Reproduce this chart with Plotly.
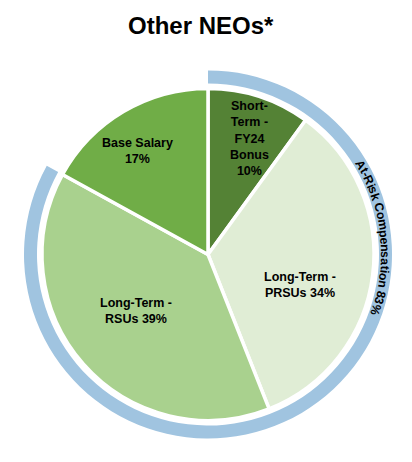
import math
import plotly.graph_objects as go

# ---- data ----
labels = ["Short-Term - FY24 Bonus", "Long-Term - PRSUs", "Long-Term - RSUs", "Base Salary"]
values = [10, 34, 39, 17]
label_text = ["Short-<br>Term -<br>FY24<br>Bonus<br>10%", "Long-Term -<br>PRSUs 34%",
              "Long-Term -<br>RSUs 39%", "Base Salary<br>17%"]
ring_labels = ["At-Risk Compensation", "Other"]
ring_values = [83, 17]
ring_text = "At-Risk Compensation 83%"
title_text = "Other NEOs*"

# ---- styling / layout ----
colors = ["#548235", "#E0EDD5", "#A9D18E", "#70AD47"]
ring_color = "#A0C4E0"
W, H = 412, 462
OFF = 8                          # page body margin
cx, cy = 208 - OFF, 254.5 - OFF  # pie centre (px in figure)
R_pie = 166
R_ring_out, R_ring_in = 184, 171
label_r = [123, 97, 91, 125]
label_dang = [1.9, 10.9, 3.3, -3.5]   # degrees, label placement tweak
FONT = "Liberation Sans, Arial, sans-serif"


def px(x, y):
    return x / W, 1 - y / H


def dom(r):
    return dict(x=[(cx - r) / W, (cx + r) / W], y=[1 - (cy + r) / H, 1 - (cy - r) / H])


fig = go.Figure()
fig.add_trace(go.Pie(
    labels=ring_labels, values=ring_values, sort=False, direction="clockwise", rotation=0,
    hole=R_ring_in / R_ring_out, domain=dom(R_ring_out),
    marker=dict(colors=[ring_color, "rgba(0,0,0,0)"], line=dict(width=0)),
    textinfo="none", hoverinfo="skip", showlegend=False,
))
fig.add_trace(go.Pie(
    labels=labels, values=values, sort=False, direction="clockwise", rotation=0,
    domain=dom(R_pie),
    marker=dict(colors=colors, line=dict(color="white", width=3.5)),
    textinfo="none", hoverinfo="label+percent", showlegend=False,
))

annotations = []
# slice labels at data-derived mid angles
total = sum(values)
cum = 0
for v, t, r, da in zip(values, label_text, label_r, label_dang):
    mid = (cum + v / 2) / total * 2 * math.pi + math.radians(da)
    cum += v
    x, y = px(cx + r * math.sin(mid), cy - r * math.cos(mid))
    annotations.append(dict(
        x=x, y=y, xref="paper", yref="paper", text=t, showarrow=False,
        xanchor="center", yanchor="middle",
        font=dict(family=FONT, size=12.5, color="black", weight=700), align="center"))

# curved ring text
widths = {"A": 722, "t": 333, "-": 333, "R": 722, "i": 278, "s": 556, "k": 556, " ": 278,
          "C": 722, "o": 611, "m": 889, "p": 611, "e": 556, "n": 611, "a": 556,
          "8": 556, "3": 556, "%": 889}
fs = 12.3
r_text = 177
theta_c = math.radians(84)
w = [widths.get(c, 556) * fs / 1000 for c in ring_text]
L = sum(w)
s = 0
for c, wc in zip(ring_text, w):
    sc = s + wc / 2
    s += wc
    if c == " ":
        continue
    th = theta_c + (sc - L / 2) / r_text
    x, y = px(cx + r_text * math.sin(th), cy - r_text * math.cos(th))
    annotations.append(dict(
        x=x, y=y, xref="paper", yref="paper", text=c, showarrow=False,
        xanchor="center", yanchor="middle", textangle=math.degrees(th),
        font=dict(family=FONT, size=fs, color="black", weight=700)))

tx, ty = px(201 - OFF, 25 - OFF)
annotations.append(dict(
    x=tx, y=ty, xref="paper", yref="paper", text=title_text, showarrow=False,
    xanchor="center", yanchor="middle",
    font=dict(family=FONT, size=24, color="black", weight=700)))

fig.update_layout(
    width=W, height=H, margin=dict(l=0, r=0, t=0, b=0),
    paper_bgcolor="white", plot_bgcolor="white",
    annotations=annotations,
)
fig.write_html("out.html")
